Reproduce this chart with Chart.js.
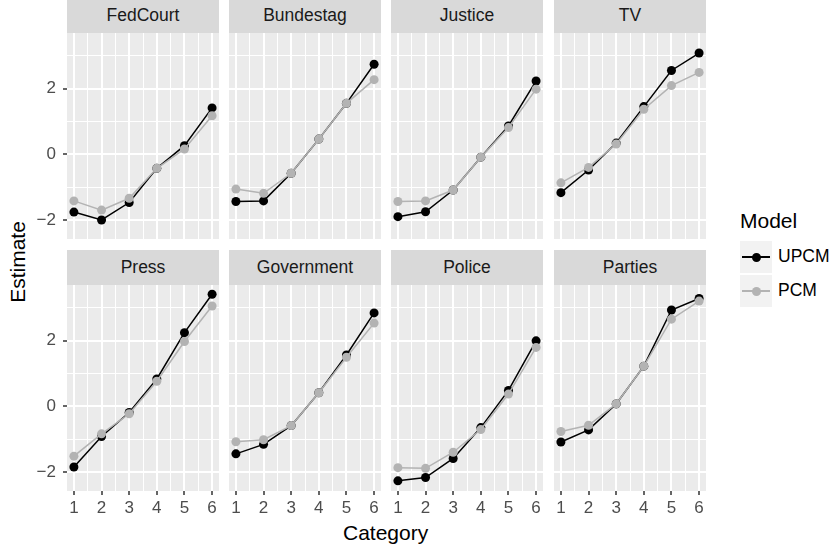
<!DOCTYPE html>
<html>
<head>
<meta charset="utf-8">
<script src="https://cdn.jsdelivr.net/npm/chart.js@4.4.1/dist/chart.umd.min.js"></script>
<style>
  body { margin: 0; background: #fff; font-family: "Liberation Sans", Arial, sans-serif; }
  #page { position: relative; width: 830px; height: 551px; overflow: hidden; }
  canvas { position: absolute; }
  .strip { position: absolute; width: 152px; height: 35px; line-height: 35px; background: #D9D9D9;
           color: #1A1A1A; font-size: 17.5px; text-align: center; }
  .title { position: absolute; color: #000; font-size: 21px; white-space: nowrap; }
  .key { position: absolute; left: 740px; width: 32px; height: 32px; background: #F2F2F2; }
  .key .ln { position: absolute; left: 2px; top: 15px; width: 28px; height: 1.5px; }
  .key .pt { position: absolute; left: 11.5px; top: 11.5px; width: 9px; height: 9px; border-radius: 50%; }
  .lab { position: absolute; left: 778px; font-size: 17.5px; color: #000; }
</style>
</head>
<body>
<div id="page">
  <div class="title" style="left:-24px; top:250px; transform: rotate(-90deg); width:84px; text-align:center;">Estimate</div>
  <div class="title" style="left:343px; top:521px;">Category</div>
  <div class="title" style="left:740px; top:209px;">Model</div>
  <div class="key" style="top:241px;"><div class="ln" style="background:#000"></div><div class="pt" style="background:#000"></div></div>
  <div class="key" style="top:275px;"><div class="ln" style="background:#B3B3B3"></div><div class="pt" style="background:#B3B3B3"></div></div>
  <div class="lab" style="top:246px;">UPCM</div>
  <div class="lab" style="top:280px;">PCM</div>
</div>
<script>
const categories = [1, 2, 3, 4, 5, 6];
const panels = ['FedCourt', 'Bundestag', 'Justice', 'TV', 'Press', 'Government', 'Police', 'Parties'];

// UPCM estimates, one row per panel
const upcm = [
  [-1.76, -2.00, -1.47, -0.43, 0.26, 1.41],
  [-1.44, -1.42, -0.58, 0.46, 1.55, 2.74],
  [-1.90, -1.75, -1.09, -0.09, 0.86, 2.23],
  [-1.17, -0.48, 0.34, 1.45, 2.55, 3.08],
  [-1.85, -0.92, -0.19, 0.83, 2.24, 3.41],
  [-1.45, -1.16, -0.59, 0.41, 1.56, 2.84],
  [-2.27, -2.17, -1.59, -0.65, 0.48, 1.99],
  [-1.09, -0.72, 0.07, 1.22, 2.93, 3.28]
];

// PCM estimates
const pcm = [
  [-1.42, -1.70, -1.34, -0.43, 0.16, 1.17],
  [-1.06, -1.19, -0.58, 0.46, 1.55, 2.27],
  [-1.44, -1.42, -1.09, -0.09, 0.81, 1.98],
  [-0.87, -0.40, 0.31, 1.37, 2.09, 2.49],
  [-1.52, -0.84, -0.23, 0.76, 1.97, 3.05],
  [-1.08, -1.02, -0.59, 0.41, 1.49, 2.53],
  [-1.87, -1.89, -1.40, -0.71, 0.37, 1.79],
  [-0.77, -0.58, 0.07, 1.22, 2.65, 3.20]
];

const xGridValues = [1, 1.5, 2, 2.5, 3, 3.5, 4, 4.5, 5, 5.5, 6];
const yGridValues = [-2, -1, 0, 1, 2, 3];

const colLeft = [67, 229, 391, 554];
const rowTop = [33, 285];
const panelW = 152, panelH = 206, stripH = 35;
const yAxisW = 40, xAxisH = 30;

const page = document.getElementById('page');

const panelBg = {
  id: 'panelBg',
  beforeDraw(chart) {
    const { ctx, chartArea: a } = chart;
    ctx.save();
    ctx.fillStyle = '#EBEBEB';
    ctx.fillRect(a.left, a.top, a.width, a.height);
    ctx.restore();
  }
};

// fixed axis size, no extra label padding so panels line up
function fixSize(s, size, horizontal) {
  if (horizontal) s.height = size; else s.width = size;
  s.paddingLeft = s.paddingRight = s.paddingTop = s.paddingBottom = 0;
}

panels.forEach((name, i) => {
  const col = i % 4, row = Math.floor(i / 4);
  const showY = col === 0, showX = row === 1;

  const strip = document.createElement('div');
  strip.className = 'strip';
  strip.style.left = colLeft[col] + 'px';
  strip.style.top = (rowTop[row] - stripH) + 'px';
  strip.textContent = name;
  page.appendChild(strip);

  const cv = document.createElement('canvas');
  const w = panelW + (showY ? yAxisW : 0);
  const h = panelH + (showX ? xAxisH : 0);
  cv.width = w; cv.height = h;
  cv.style.width = w + 'px'; cv.style.height = h + 'px';
  cv.style.left = (colLeft[col] - (showY ? yAxisW : 0)) + 'px';
  cv.style.top = rowTop[row] + 'px';
  page.appendChild(cv);

  new Chart(cv.getContext('2d'), {
    type: 'line',
    data: {
      datasets: [
        {
          label: 'UPCM',
          data: categories.map((c, j) => ({ x: c, y: upcm[i][j] })),
          borderColor: '#000000',
          backgroundColor: '#000000',
          borderWidth: 1.5,
          pointRadius: 4.5,
          pointBorderWidth: 0,
          tension: 0,
          order: 2
        },
        {
          label: 'PCM',
          data: categories.map((c, j) => ({ x: c, y: pcm[i][j] })),
          borderColor: '#B3B3B3',
          backgroundColor: '#B3B3B3',
          borderWidth: 1.5,
          pointRadius: 4.5,
          pointBorderWidth: 0,
          tension: 0,
          order: 1
        }
      ]
    },
    options: {
      responsive: false,
      animation: false,
      devicePixelRatio: 1,
      layout: { padding: 0, autoPadding: false },
      plugins: { legend: { display: false }, tooltip: { enabled: false } },
      scales: {
        x: {
          type: 'linear',
          min: 0.75,
          max: 6.25,
          afterBuildTicks: s => { s.ticks = xGridValues.map(v => ({ value: v })); },
          afterFit: s => fixSize(s, showX ? xAxisH : 0, true),
          border: { display: false },
          grid: {
            color: '#FFFFFF',
            lineWidth: c => Number.isInteger(c.tick.value) ? 2 : 1,
            drawTicks: showX,
            tickLength: 4,
            tickWidth: 1.5,
            tickColor: c => Number.isInteger(c.tick.value) ? '#333333' : 'rgba(0,0,0,0)'
          },
          ticks: {
            display: showX,
            autoSkip: false,
            maxRotation: 0,
            padding: 3,
            color: '#4D4D4D',
            font: { family: '"Liberation Sans", Arial, sans-serif', size: 17 },
            callback: v => Number.isInteger(v) ? String(v) : ''
          }
        },
        y: {
          type: 'linear',
          min: -2.58,
          max: 3.69,
          afterBuildTicks: s => { s.ticks = yGridValues.map(v => ({ value: v })); },
          afterFit: s => fixSize(s, showY ? yAxisW : 0, false),
          border: { display: false },
          grid: {
            color: '#FFFFFF',
            lineWidth: c => c.tick.value % 2 === 0 ? 2 : 1,
            drawTicks: showY,
            tickLength: 4,
            tickWidth: 1.5,
            tickColor: c => c.tick.value % 2 === 0 ? '#333333' : 'rgba(0,0,0,0)'
          },
          ticks: {
            display: showY,
            autoSkip: false,
            padding: 7,
            color: '#4D4D4D',
            font: { family: '"Liberation Sans", Arial, sans-serif', size: 17 },
            callback: v => v % 2 === 0 ? (v < 0 ? '\u2212' + Math.abs(v) : String(v)) : ''
          }
        }
      }
    },
    plugins: [panelBg]
  });
});
</script>
</body>
</html>
